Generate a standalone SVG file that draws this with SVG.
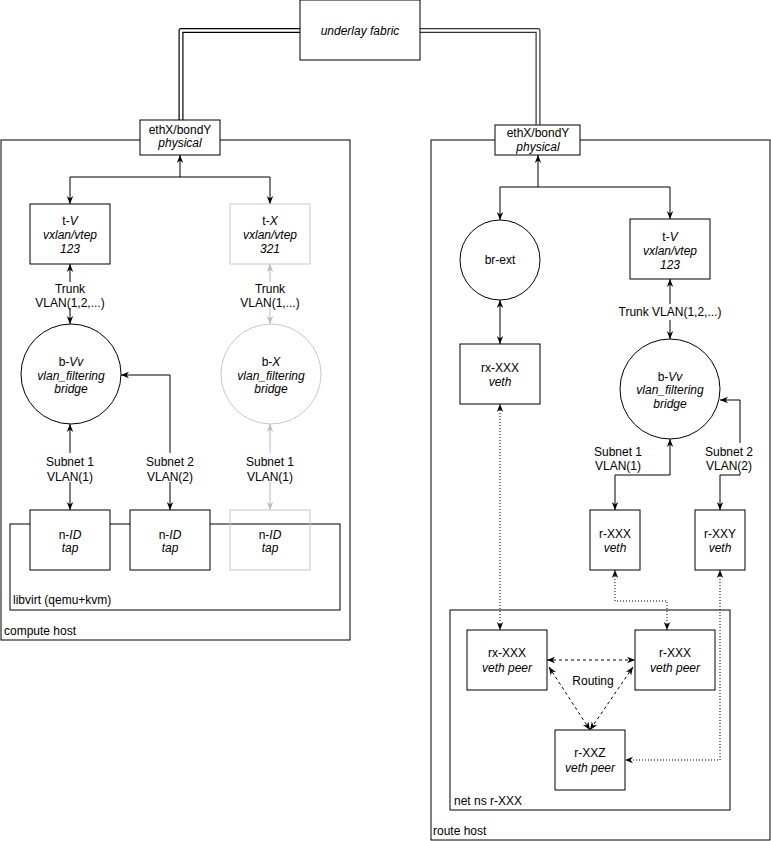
<svg xmlns="http://www.w3.org/2000/svg" width="771" height="841" viewBox="0 0 771 841">
<defs>
<marker id="ah" viewBox="0 0 10 10" refX="10" refY="5" markerWidth="8" markerHeight="8" markerUnits="userSpaceOnUse" orient="auto-start-reverse">
<path d="M0,1 L10,5 L0,9 L3,5 z" fill="#000"/>
</marker>
<marker id="ahg" viewBox="0 0 10 10" refX="10" refY="5" markerWidth="8" markerHeight="8" markerUnits="userSpaceOnUse" orient="auto-start-reverse">
<path d="M0,1 L10,5 L0,9 L3,5 z" fill="#bbb"/>
</marker>
<style>
text{font-family:"Liberation Sans",Arial,sans-serif;font-size:12px;fill:#000;text-anchor:middle}
.l{text-anchor:start}
.i{font-style:italic}
.box{fill:#fff;stroke:#000;stroke-width:1}
.cont{fill:none;stroke:#000;stroke-width:1}
.gbox{fill:none;stroke:#c8c8c8;stroke-width:1}
.e{fill:none;stroke:#000;stroke-width:1}
.eg{fill:none;stroke:#bbb;stroke-width:1}
.b{marker-start:url(#ah);marker-end:url(#ah)}
.bg{marker-start:url(#ahg);marker-end:url(#ahg)}
.dot{stroke-dasharray:1 2}
.dash{stroke-dasharray:3 3}
.lbg{fill:#fff;stroke:none}
</style>
</defs>

<!-- containers -->
<g id="compute-host">
<rect class="cont" x="1" y="140" width="349" height="500"/>
<text class="l" x="4" y="635">compute host</text>
</g>
<g id="libvirt">
<rect class="cont" x="10" y="524" width="330" height="86"/>
<text class="l" x="13" y="604">libvirt (qemu+kvm)</text>
</g>
<g id="route-host">
<rect class="cont" x="431" y="140" width="339" height="700"/>
<text class="l" x="433" y="835">route host</text>
</g>
<g id="netns">
<rect class="cont" x="450" y="610" width="280" height="200"/>
<text class="l" x="454" y="805">net ns r-XXX</text>
</g>

<!-- connectors -->
<g id="connectors">
<path d="M300,30.5 H181 V120" fill="none" stroke="#000" stroke-width="5" stroke-linejoin="round"/>
<path d="M300,30.5 H181 V120" fill="none" stroke="#fff" stroke-width="2.6" stroke-linejoin="round"/>
<path d="M420,30.5 H538 V125" fill="none" stroke="#333" stroke-width="5" stroke-linejoin="round"/>
<path d="M420,30.5 H538 V125" fill="none" stroke="#fff" stroke-width="2.6" stroke-linejoin="round"/>

<path class="e" d="M180,177 V155" marker-end="url(#ah)"/>
<path class="e" d="M70,177 H270"/>
<path class="e" d="M70,177 V204" marker-end="url(#ah)"/>
<path class="e" d="M270,177 V204" marker-end="url(#ah)"/>
<path class="e b" d="M70,264 V324"/>
<path class="eg bg" d="M270,264 V324"/>
<path class="e b" d="M70,424 V510"/>
<path class="e b" d="M170,510 V375 H121"/>
<path class="eg bg" d="M270,424 V510"/>

<path class="e" d="M538,187 V155" marker-end="url(#ah)"/>
<path class="e" d="M500,187 H670"/>
<path class="e" d="M500,187 V220" marker-end="url(#ah)"/>
<path class="e" d="M670,187 V219" marker-end="url(#ah)"/>
<path class="e b" d="M500,300 V344"/>
<path class="e b" d="M670,279 V339"/>
<path class="e b" d="M670,439 V475 H615 V510"/>
<path class="e b" d="M720,510 V475 H740 V400 H720"/>
<path class="e b dot" d="M500,404 V630"/>
<path class="e b dot" d="M615,570 V601 H667 V630"/>
<path class="e b dot" d="M720,570 V760 H625"/>
<path class="e b dash" d="M547,660 H635"/>
<path class="e b dash" d="M549,667 L590,730"/>
<path class="e b dash" d="M633,667 L590,730"/>

<!-- edge labels -->
<rect class="lbg" x="40" y="282" width="62" height="26"/>
<text x="70" y="293">Trunk</text>
<text x="70" y="307">VLAN(1,2,...)</text>
<rect class="lbg" x="240" y="282" width="62" height="26"/>
<text x="270" y="293">Trunk</text>
<text x="270" y="307">VLAN(1,...)</text>
<rect class="lbg" x="46" y="453" width="48" height="29"/>
<text x="70" y="466">Subnet 1</text>
<text x="70" y="481">VLAN(1)</text>
<rect class="lbg" x="146" y="453" width="48" height="29"/>
<text x="170" y="466">Subnet 2</text>
<text x="170" y="481">VLAN(2)</text>
<rect class="lbg" x="246" y="453" width="48" height="29"/>
<text x="270" y="466">Subnet 1</text>
<text x="270" y="481">VLAN(1)</text>
<rect class="lbg" x="617" y="304" width="106" height="16"/>
<text x="670" y="316">Trunk VLAN(1,2,...)</text>
<text x="618" y="456">Subnet 1</text>
<text x="618" y="470">VLAN(1)</text>
<rect class="lbg" x="704" y="443" width="50" height="30"/>
<text x="729" y="456">Subnet 2</text>
<text x="729" y="470">VLAN(2)</text>
<text x="593" y="685">Routing</text>
</g>

<!-- nodes -->
<g id="underlay">
<rect class="box" x="300" y="0" width="120" height="60"/>
<text class="i" x="360" y="35">underlay fabric</text>
</g>
<g id="eth-compute">
<rect class="box" x="140" y="120" width="80" height="35"/>
<text x="180" y="134">ethX/bondY</text>
<text class="i" x="180" y="147">physical</text>
</g>
<g id="tV-compute">
<rect class="box" x="30" y="204" width="80" height="60"/>
<text x="70" y="225">t-<tspan class="i">V</tspan></text>
<text class="i" x="70" y="239">vxlan/vtep</text>
<text class="i" x="70" y="253">123</text>
</g>
<g id="tX-compute">
<rect class="gbox" x="230" y="204" width="80" height="60"/>
<text x="270" y="225">t-<tspan class="i">X</tspan></text>
<text class="i" x="270" y="239">vxlan/vtep</text>
<text class="i" x="270" y="253">321</text>
</g>
<g id="bVv-compute">
<circle class="box" cx="71" cy="374" r="50"/>
<text x="71" y="366">b-<tspan class="i">Vv</tspan></text>
<text class="i" x="71" y="380">vlan_filtering</text>
<text class="i" x="71" y="393">bridge</text>
</g>
<g id="bX-compute">
<circle class="gbox" cx="271" cy="374" r="50"/>
<text x="271" y="366">b-<tspan class="i">X</tspan></text>
<text class="i" x="271" y="380">vlan_filtering</text>
<text class="i" x="271" y="393">bridge</text>
</g>
<g id="nID-1">
<rect class="box" x="30" y="510" width="80" height="60"/>
<text x="70" y="539">n-<tspan class="i">ID</tspan></text>
<text class="i" x="70" y="552">tap</text>
</g>
<g id="nID-2">
<rect class="box" x="130" y="510" width="80" height="60"/>
<text x="170" y="539">n-<tspan class="i">ID</tspan></text>
<text class="i" x="170" y="552">tap</text>
</g>
<g id="nID-3">
<rect class="gbox" x="230" y="510" width="80" height="60"/>
<text x="270" y="539">n-<tspan class="i">ID</tspan></text>
<text class="i" x="270" y="552">tap</text>
</g>

<g id="eth-route">
<rect class="box" x="495" y="125" width="85" height="30"/>
<text x="538" y="137">ethX/bondY</text>
<text class="i" x="538" y="151">physical</text>
</g>
<g id="br-ext">
<circle class="box" cx="500" cy="260" r="40"/>
<text x="500" y="264">br-ext</text>
</g>
<g id="tV-route">
<rect class="box" x="630" y="219" width="80" height="60"/>
<text x="670" y="241">t-<tspan class="i">V</tspan></text>
<text class="i" x="670" y="255">vxlan/vtep</text>
<text class="i" x="670" y="269">123</text>
</g>
<g id="bVv-route">
<circle class="box" cx="670" cy="389" r="50"/>
<text x="670" y="381">b-<tspan class="i">Vv</tspan></text>
<text class="i" x="670" y="394">vlan_filtering</text>
<text class="i" x="670" y="408">bridge</text>
</g>
<g id="rx-veth">
<rect class="box" x="460" y="344" width="80" height="60"/>
<text x="500" y="372">rx-XXX</text>
<text class="i" x="500" y="386">veth</text>
</g>
<g id="r-XXX-veth">
<rect class="box" x="590" y="510" width="50" height="60"/>
<text x="615" y="538">r-XXX</text>
<text class="i" x="615" y="552">veth</text>
</g>
<g id="r-XXY-veth">
<rect class="box" x="695" y="510" width="50" height="60"/>
<text x="720" y="538">r-XXY</text>
<text class="i" x="720" y="552">veth</text>
</g>
<g id="rx-peer">
<rect class="box" x="467" y="630" width="80" height="60"/>
<text x="507" y="657">rx-XXX</text>
<text class="i" x="507" y="672">veth peer</text>
</g>
<g id="r-XXX-peer">
<rect class="box" x="635" y="630" width="80" height="60"/>
<text x="675" y="657">r-XXX</text>
<text class="i" x="675" y="672">veth peer</text>
</g>
<g id="r-XXZ-peer">
<rect class="box" x="555" y="730" width="70" height="60"/>
<text x="590" y="757">r-XXZ</text>
<text class="i" x="590" y="772">veth peer</text>
</g>
</svg>
